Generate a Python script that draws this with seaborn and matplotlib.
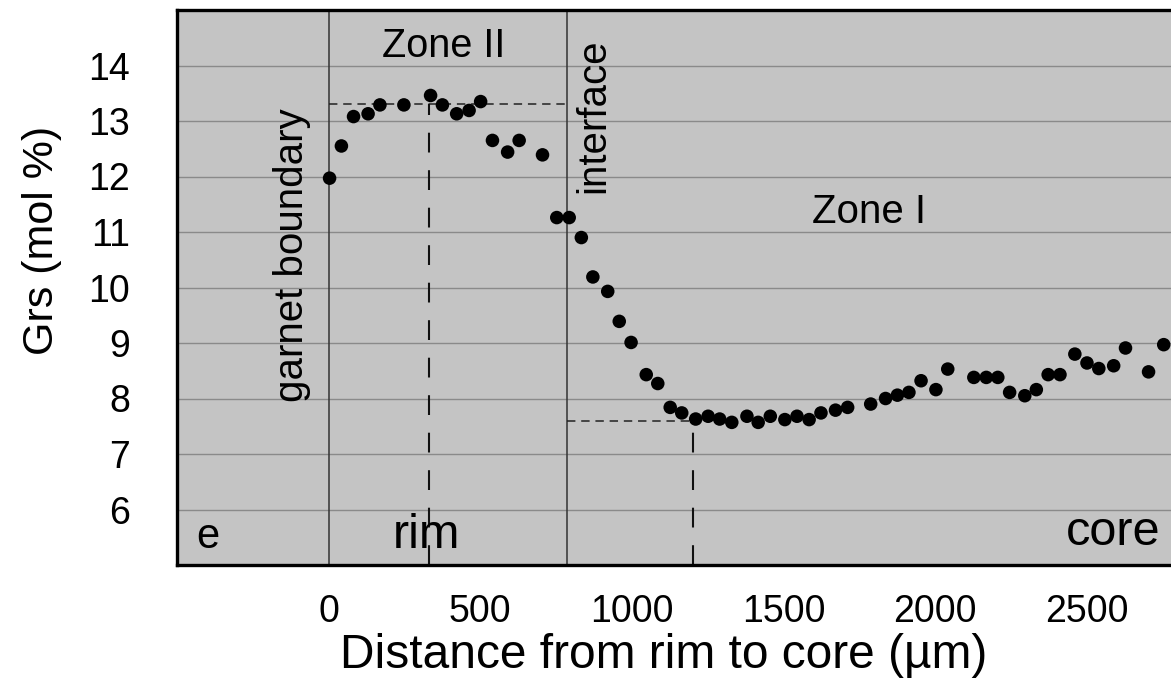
import matplotlib
matplotlib.use("Agg")
import matplotlib.pyplot as plt
import seaborn as sns
import pandas as pd

# Grossular profile across the garnet, rim to core
distance_um = [3, 42, 82, 130, 169, 248, 336, 375, 422, 463, 501, 540, 590, 628, 705,
               752, 793, 833, 871, 920, 958, 997, 1047, 1085, 1126, 1164, 1210, 1251,
               1289, 1329, 1379, 1416, 1456, 1504, 1544, 1584, 1623, 1671, 1711, 1787,
               1836, 1875, 1913, 1953, 2002, 2041, 2127, 2168, 2206, 2245, 2295, 2333,
               2372, 2411, 2460, 2500, 2539, 2588, 2627, 2703, 2753]
grs_mol_pct = [11.97, 12.55, 13.08, 13.13, 13.29, 13.29, 13.46, 13.29, 13.13, 13.19,
               13.35, 12.65, 12.44, 12.65, 12.39, 11.26, 11.26, 10.90, 10.19, 9.93,
               9.39, 9.01, 8.43, 8.27, 7.84, 7.74, 7.63, 7.68, 7.63, 7.57, 7.68, 7.57,
               7.68, 7.62, 7.68, 7.62, 7.74, 7.79, 7.84, 7.90, 8.00, 8.06, 8.11, 8.32,
               8.16, 8.53, 8.38, 8.38, 8.38, 8.11, 8.05, 8.16, 8.43, 8.43, 8.80, 8.64,
               8.54, 8.59, 8.91, 8.48, 8.97]

x_ticks = [0, 500, 1000, 1500, 2000, 2500]
y_ticks = [5, 6, 7, 8, 9, 10, 11, 12, 13, 14, 15]
y_tick_labels = ["", "6", "7", "8", "9", "10", "11", "12", "13", "14", ""]

garnet_boundary = 0
interface = 785
rim_plateau = 13.3
rim_peak_x = 330
core_minimum = 7.6
core_minimum_x = 1200

sns.set_theme(style="white")
plt.rcParams["font.family"] = ["Liberation Sans", "DejaVu Sans"]
plt.rcParams["text.color"] = "black"
plt.rcParams["axes.labelcolor"] = "black"

df = pd.DataFrame({"distance": distance_um, "grs": grs_mol_pct})

fig = plt.figure(figsize=(11.71, 6.91), dpi=100)
ax = fig.add_axes([177 / 1171, 1 - 565 / 691, 1 - 177 / 1171, (565 - 10) / 691])
ax.set_facecolor("#c4c4c4")

ax.set_xlim(-500, 2777)
ax.set_ylim(5, 15)

# horizontal grid at every integer
for yv in y_ticks[1:-1]:
    ax.axhline(yv, color="#8a8a8a", lw=1.0, zorder=1)

# zone boundaries
ax.axvline(garnet_boundary, color="#333333", lw=1.1, zorder=2)
ax.axvline(interface, color="#333333", lw=1.1, zorder=2)

# rim plateau and core minimum guides
ax.plot([garnet_boundary, interface], [rim_plateau, rim_plateau], color="#222222",
        lw=1.1, dashes=(5.5, 3.8), zorder=2)
ax.plot([rim_peak_x, rim_peak_x], [5, rim_plateau], color="#111111",
        lw=1.5, dashes=(9.5, 8.5), zorder=2)
ax.plot([interface, core_minimum_x], [core_minimum, core_minimum], color="#222222",
        lw=1.1, dashes=(5.5, 3.8), zorder=2)
ax.plot([core_minimum_x, core_minimum_x], [5, core_minimum], color="#111111",
        lw=1.5, dashes=(9.5, 8.5), zorder=2)

sns.scatterplot(data=df, x="distance", y="grs", ax=ax, color="black", s=95,
                edgecolor="none", zorder=3, legend=False)

ax.set_xticks(x_ticks)
ax.set_xticklabels([str(v) for v in x_ticks])
ax.set_yticks(y_ticks)
ax.set_yticklabels(y_tick_labels)
ax.tick_params(axis="both", direction="out", length=9, width=1.2, color="black",
               labelsize=27, labelcolor="black")
ax.tick_params(axis="y", pad=25)
ax.tick_params(axis="x", pad=12)

for side in ["left", "top", "bottom"]:
    ax.spines[side].set_visible(True)
    ax.spines[side].set_color("black")
    ax.spines[side].set_linewidth(2.4)
ax.spines["right"].set_visible(False)

ax.set_xlabel("Distance from rim to core (µm)", fontsize=34.5)
ax.xaxis.set_label_coords(0.49, -0.122)
ax.set_ylabel("Grs (mol %)", fontsize=31)
ax.yaxis.set_label_coords(-0.1157, 0.584)

ax.text(380, 14.16, "Zone II", fontsize=28.5, ha="center", va="baseline")
ax.text(1780, 11.17, "Zone I", fontsize=29, ha="center", va="baseline")
ax.text(910, 13.1, "interface", fontsize=29, rotation=90, rotation_mode="anchor",
        ha="center", va="baseline")
ax.text(-83, 10.58, "garnet boundary", fontsize=29, rotation=90, rotation_mode="anchor",
        ha="center", va="baseline")
ax.text(-397, 5.31, "e", fontsize=30, ha="center", va="baseline")
ax.text(324, 5.31, "rim", fontsize=35, ha="center", va="baseline")
ax.text(2741, 5.36, "core", fontsize=35, ha="right", va="baseline")

fig.savefig("out.png", dpi=100)
